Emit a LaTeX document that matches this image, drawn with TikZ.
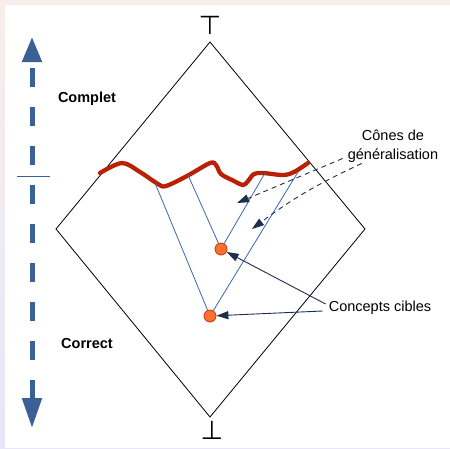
\documentclass[tikz,border=0pt]{standalone}
\usepackage{fontspec}
\setmainfont{Liberation Sans}
\newfontfamily\symfont{DejaVu Sans}
\usetikzlibrary{arrows.meta,positioning,calc}
\definecolor{axisBlue}   {RGB}{ 59, 96,150}
\definecolor{coneBlue}   {RGB}{ 62,104,168}
\definecolor{arrowNavy}  {RGB}{ 28, 48, 78}
\definecolor{frontRed}   {RGB}{185, 32,  4}
\definecolor{pointOrange}{RGB}{250,112, 48}
\definecolor{pointRim}   {RGB}{205, 50, 15}
\definecolor{frameRose}  {RGB}{248,238,236}
\definecolor{frameLilac} {RGB}{232,230,248}

\begin{document}
\begin{tikzpicture}[x=1pt,y=-1pt,
        lbl/.style={font=\fontsize{14.5}{19}\selectfont, inner sep=0pt},
        side/.style={lbl, font=\fontsize{14.5}{19}\selectfont\bfseries},
        bound/.style={inner sep=0pt, font=\symfont\fontsize{26}{26}\selectfont},
        axis/.style={{Triangle[length=25pt,width=19pt]}-{Triangle[length=30pt,width=19pt]},
                    line width=5pt, axisBlue, dash pattern=on 19pt off 20pt, dash phase=32pt},
        front/.style={line width=4.3pt, frontRed, line cap=round, line join=round},
        cone/.style={line width=0.8pt, coneBlue},
        target/.style={circle, draw=pointRim, fill=pointOrange, line width=0.8pt,
                       minimum size=12pt, inner sep=0pt},
        pointer/.style={-{Triangle[length=12pt,width=8pt]}, line width=0.9pt, arrowNavy},
        hint/.style={pointer, dashed, dash pattern=on 5pt off 4pt}]
        \useasboundingbox (0,0) rectangle (450,448);
        \shade[top color=frameRose, bottom color=frameLilac] (0,0) rectangle (450,448);
        \fill[white] (5,5) rectangle (450,448);
        \coordinate (dtop) at (210,42);
        \coordinate (dright) at (365,229);
        \coordinate (dbot) at (210,417);
        \coordinate (dleft) at (56,229);
        \foreach \s in {1,...,6}
          \fill[black, opacity=0.045, shift={(\s,\s)}]
            (dtop) -- (dright) -- (dbot) -- (dleft) -- cycle;
        \draw[line width=0.8pt, fill=white] (dtop) -- (dright) -- (dbot) -- (dleft) -- cycle;
        \node[bound] (topsym) at (210,25) {⊤};
        \node[bound] (botsym) at (212,430) {⊥};
        \coordinate (axtop) at (32,37);
        \coordinate (axbot) at (32,428);
        \draw[axis] (axtop) -- (axbot);
        \coordinate (tickl) at (17,176);
        \coordinate (tickr) at (50,176);
        \draw[axisBlue, line width=1pt] (tickl) -- (tickr);
        \node[side] (complet) at (87,99) {Complet};
        \node[side] (correct) at (87,344) {Correct};
        \draw[front] plot[smooth, tension=0.55] coordinates {
          (100,173) (122,163) (140,172) (158,184) (166,186) (187,176)
          (210,163) (216,165) (221,174) (232,180) (243,185) (248,181)
          (254,174) (263,173) (283,175) (294,172) (308,163)};
        \coordinate (w1) at (155,183);
        \coordinate (w2) at (188,175);
        \coordinate (w3) at (265,173);
        \coordinate (w4) at (298,172);
        \node[target] (c1) at (221,249) {};
        \node[target] (c2) at (210,316) {};
        \draw[cone] (c1) -- (w2);
        \draw[cone] (c1) -- (w3);
        \draw[cone] (c2) -- (w1);
        \draw[cone] (c2) -- (w4);
        \node[lbl, align=center] (cones) at (393,146) {Cônes de\\généralisation};
        \node[lbl] (cibles) at (380,308) {Concepts cibles};
        \coordinate (h1) at (237,203);
        \coordinate (h2) at (252,229);
        \draw[hint] ([xshift=-5pt,yshift=4pt]cones.south west) -- (h1);
        \draw[hint] ([xshift=14pt,yshift=-1pt]cones.south west) to[bend right=6] (h2);
        \draw[pointer] ([xshift=-3pt,yshift=4pt]cibles.west) -- (c1);
        \draw[pointer] ([xshift=-6pt,yshift=-3pt]cibles.west) -- (c2);
      \end{tikzpicture}
\end{document}
